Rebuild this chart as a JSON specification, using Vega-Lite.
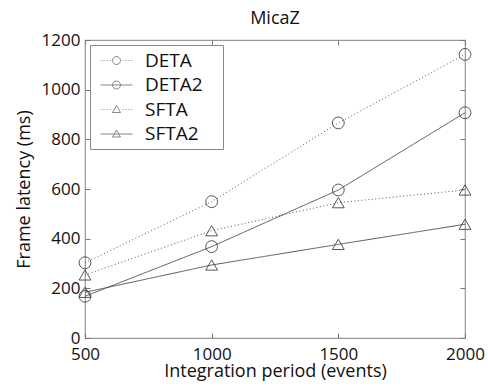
{
  "$schema": "https://vega.github.io/schema/vega-lite/v6.json",
  "autosize": "none",
  "width": 380,
  "height": 298,
  "padding": {"left": 85, "top": 40, "right": 23, "bottom": 49},
  "background": "white",
  "title": {"text": "MicaZ", "fontSize": 18, "font": "Open Sans", "fontWeight": "normal", "color": "#111", "offset": 3},
  "config": {
    "font": "Open Sans",
    "view": {"stroke": "#999", "strokeWidth": 1.2},
    "axis": {
      "grid": false, "domain": false, "tickColor": "#777", "tickSize": -5, "tickWidth": 1,
      "labelFont": "Open Sans", "labelFontSize": 17, "labelColor": "#111",
      "titleFont": "Open Sans", "titleFontSize": 18, "titleFontWeight": "normal", "titleColor": "#111"
    },
    "legend": {
      "orient": "top-left", "offset": 5, "padding": 5, "strokeColor": "#888", "fillColor": "white",
      "symbolSize": 400, "symbolStrokeColor": "#444", "symbolStrokeWidth": 0.9, "symbolFillColor": "transparent",
      "labelFont": "Open Sans", "labelFontSize": 19, "labelColor": "#111", "labelOffset": 29,
      "rowPadding": 3.5, "cornerRadius": 0
    }
  },
  "data": {"values": [
    {"series": "DETA", "period": 500, "latency": 303},
    {"series": "DETA", "period": 1000, "latency": 549},
    {"series": "DETA", "period": 1500, "latency": 866},
    {"series": "DETA", "period": 2000, "latency": 1142},
    {"series": "DETA2", "period": 500, "latency": 168},
    {"series": "DETA2", "period": 1000, "latency": 368},
    {"series": "DETA2", "period": 1500, "latency": 596},
    {"series": "DETA2", "period": 2000, "latency": 907},
    {"series": "SFTA", "period": 500, "latency": 254},
    {"series": "SFTA", "period": 1000, "latency": 432},
    {"series": "SFTA", "period": 1500, "latency": 545},
    {"series": "SFTA", "period": 2000, "latency": 596},
    {"series": "SFTA2", "period": 500, "latency": 184},
    {"series": "SFTA2", "period": 1000, "latency": 294},
    {"series": "SFTA2", "period": 1500, "latency": 377},
    {"series": "SFTA2", "period": 2000, "latency": 458}
  ]},
  "resolve": {"scale": {"shape": "independent"}, "legend": {"shape": "independent"}, "axis": {"x": "independent", "y": "independent"}},
  "layer": [
    {
      "mark": {"type": "line", "color": "#444", "strokeWidth": 0.9},
      "encoding": {
        "x": {"field": "period", "type": "quantitative", "scale": {"domain": [500, 2000], "nice": false},
              "axis": {"values": [500, 1000, 1500, 2000], "format": "d", "title": "Integration period (events)", "labelPadding": 13, "titlePadding": 0, "labelFlush": false}},
        "y": {"field": "latency", "type": "quantitative", "scale": {"domain": [0, 1200], "nice": false},
              "axis": {"values": [0, 200, 400, 600, 800, 1000, 1200], "format": "d", "title": "Frame latency (ms)", "labelPadding": 10, "titlePadding": 8}},
        "detail": {"field": "series"},
        "strokeDash": {"field": "series", "type": "nominal", "legend": null,
                       "scale": {"domain": ["DETA", "DETA2", "SFTA", "SFTA2"], "range": [[1, 2.5], [1, 0], [1, 2.5], [1, 0]]}}
      }
    },
    {
      "mark": {"type": "point", "filled": false, "stroke": "#444", "strokeWidth": 0.9, "size": 140, "opacity": 1},
      "encoding": {
        "x": {"field": "period", "type": "quantitative", "axis": null},
        "y": {"field": "latency", "type": "quantitative", "axis": null},
        "shape": {"field": "series", "type": "nominal", "legend": null,
                  "scale": {"domain": ["DETA", "DETA2", "SFTA", "SFTA2"], "range": ["circle", "circle", "triangle-up", "triangle-up"]}}
      }
    },
    {
      "transform": [{"filter": "datum.period < 0"}],
      "mark": {"type": "point", "filled": false, "stroke": "#444", "strokeWidth": 0.9},
      "encoding": {
        "x": {"field": "period", "type": "quantitative",
              "axis": {"orient": "top", "labels": false, "title": null, "values": [500, 1000, 1500, 2000]}},
        "y": {"field": "latency", "type": "quantitative",
              "axis": {"orient": "right", "labels": false, "title": null, "values": [0, 200, 400, 600, 800, 1000, 1200]}},
        "shape": {"field": "series", "type": "nominal",
                  "scale": {"domain": ["DETA", "DETA2", "SFTA", "SFTA2"],
                            "range": [
                              "M -0.5 0 L -0.4 0 M -0.2 0 L -0.1 0 M 0.1 0 L 0.2 0 M 0.4 0 L 0.5 0 M 1.7 0 L 1.8 0 M 2.0 0 L 2.1 0 M 2.3 0 L 2.4 0 M 2.6 0 L 2.7 0 M 1.5 0 A 0.4 0.4 0 1 0 0.7 0 A 0.4 0.4 0 1 0 1.5 0",
                              "M -0.5 0 L 2.7 0 M 1.5 0 A 0.4 0.4 0 1 0 0.7 0 A 0.4 0.4 0 1 0 1.5 0",
                              "M -0.5 0 L -0.4 0 M -0.2 0 L -0.1 0 M 0.1 0 L 0.2 0 M 0.4 0 L 0.5 0 M 1.7 0 L 1.8 0 M 2.0 0 L 2.1 0 M 2.3 0 L 2.4 0 M 2.6 0 L 2.7 0 M 1.1 -0.4 L 1.5 0.3 L 0.7 0.3 Z",
                              "M -0.5 0 L 2.7 0 M 1.1 -0.4 L 1.5 0.3 L 0.7 0.3 Z"
                            ]},
                  "legend": {"title": null, "labelExpr": "datum.label + '\u00a0\u00a0\u00a0\u200b'"}}
      }
    }
  ]
}
